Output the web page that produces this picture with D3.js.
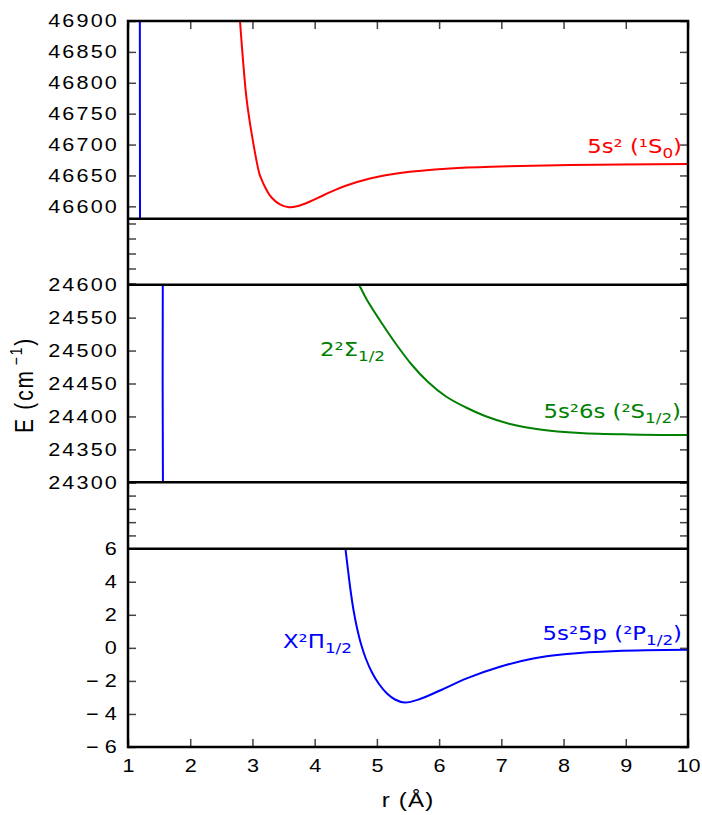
<!DOCTYPE html>
<html>
<head>
<meta charset="utf-8">
<script src="https://cdn.jsdelivr.net/npm/d3@7"></script>
<style>
  body { margin: 0; background: #fff; }
  svg { display: block; }
</style>
</head>
<body>
<div id="chart"></div>
<script>
// potential energy curves: [r (Å), E (cm-1)]
var redCurve = [[2.77, 46950], [2.800, 46900], [2.848, 46837], [2.908, 46772], [3.014, 46702], [3.110, 46653.4],
  [3.154, 46641.8], [3.202, 46631.3], [3.250, 46622.4], [3.314, 46613.5], [3.443, 46603], [3.588, 46598.4],
  [3.732, 46600.5], [3.925, 46607.8], [4.166, 46619.2], [4.488, 46632.9], [4.889, 46645.1], [5.372, 46654],
  [6.175, 46661.3], [6.979, 46664.5], [8.104, 46667], [10.0, 46668.5]];

var greenCurve = [[4.68, 24606], [4.713, 24600], [4.841, 24576.8], [5.050, 24545.7], [5.307, 24510], [5.564, 24478.1],
  [5.822, 24452.3], [6.111, 24430.3], [6.416, 24414.3], [6.738, 24400.7], [7.140, 24388.6], [7.622, 24380.2],
  [8.265, 24374.9], [9.068, 24372.6], [10.0, 24371.8]];

var blueCurve = [[1.190, 46950], [1.193, 46550], [1.560, 24650], [1.563, 24250], [4.4905, 6.3], [4.4955, 6.0],
  [4.5357, 4.711], [4.5759, 3.501], [4.6241, 2.291], [4.6804, 1.201], [4.7446, 0.233], [4.8250, -0.674],
  [4.9214, -1.491], [5.0339, -2.187], [5.1625, -2.762], [5.2911, -3.125], [5.45, -3.31],
  [5.6929, -3.095], [6.0143, -2.581], [6.4434, -1.843], [6.9786, -1.141], [7.5138, -0.644], [8.0505, -0.372],
  [8.8541, -0.191], [10.0, -0.118]];

// tick values
var rTicks = d3.range(1, 11);
var topTicks = [46600, 46650, 46700, 46750, 46800, 46850, 46900];
var midTicks = [24300, 24350, 24400, 24450, 24500, 24550, 24600];
var botTicks = [-6, -4, -2, 0, 2, 4, 6];
var gap1Ticks = [0, 0.25, 0.5, 0.75, 1];
var gap2Ticks = [0, 0.2, 0.4, 0.6, 0.8, 1];

var width = 702, height = 815;
var left = 128, right = 688;

var svg = d3.select("#chart").append("svg")
  .attr("width", width)
  .attr("height", height);

var x = d3.scaleLinear().domain([1, 10]).range([left, right]);

// the five stacked panels (two of them are empty gaps of the broken axis)
var panels = [
  {id: "top", domain: [46580, 46900], y0: 21, y1: 218.7, ticks: topTicks, labels: true, series: [[redCurve, "#ff0000"], [blueCurve, "#0000ff"]]},
  {id: "gap1", domain: [-0.02, 1.08], y0: 218.7, y1: 284.7, ticks: gap1Ticks, labels: false, series: []},
  {id: "mid", domain: [24300, 24600], y0: 284.7, y1: 482.3, ticks: midTicks, labels: true, series: [[greenCurve, "#008000"], [blueCurve, "#0000ff"]]},
  {id: "gap2", domain: [0, 1], y0: 482.3, y1: 548.7, ticks: gap2Ticks, labels: false, series: []},
  {id: "bot", domain: [-6, 6], y0: 548.7, y1: 747, ticks: botTicks, labels: true, series: [[blueCurve, "#0000ff"]]}
];

var fmtTick = function(d) { return d < 0 ? "\u2212\u200a" + Math.abs(d) : String(d); };

function styleTicks(g) {
  g.select(".domain").remove();
  g.selectAll(".tick line").attr("stroke", "#444").attr("stroke-width", 1.5);
}

// stretch axis text a bit sideways, like the original
function stretchText(sel, dx, anchor) {
  sel.selectAll(".tick text")
    .attr("x", 0)
    .attr("transform", "translate(" + dx + ",0) scale(1.2,1)")
    .style("font-family", "'Liberation Sans', Arial, sans-serif")
    .style("font-size", "18px")
    .style("letter-spacing", "1.8px")
    .attr("fill", "#000")
    .attr("text-anchor", anchor);
}

var defs = svg.append("defs");

panels.forEach(function(p) {
  var y = d3.scaleLinear().domain(p.domain).range([p.y1, p.y0]);

  defs.append("clipPath").attr("id", "clip-" + p.id)
    .append("rect")
    .attr("x", left).attr("y", p.y0)
    .attr("width", right - left).attr("height", p.y1 - p.y0);

  var line = d3.line()
    .x(function(d) { return x(d[0]); })
    .y(function(d) { return y(d[1]); })
    .curve(d3.curveCatmullRom.alpha(0.5));

  var plot = svg.append("g").attr("clip-path", "url(#clip-" + p.id + ")");
  p.series.forEach(function(s) {
    plot.append("path")
      .datum(s[0])
      .attr("fill", "none")
      .attr("stroke", s[1])
      .attr("stroke-width", 2)
      .attr("stroke-linejoin", "round")
      .attr("d", line);
  });

  var yl = svg.append("g")
    .attr("transform", "translate(" + left + ",0)")
    .call(d3.axisLeft(y).tickValues(p.ticks).tickSize(-8).tickPadding(9)
      .tickFormat(p.labels ? fmtTick : ""));
  styleTicks(yl);
  if (p.labels) stretchText(yl, -9, "end");

  var yr = svg.append("g")
    .attr("transform", "translate(" + right + ",0)")
    .call(d3.axisRight(y).tickValues(p.ticks).tickSize(-8).tickFormat(""));
  styleTicks(yr);
});

// x ticks on top of the first panel and bottom of the last one
var xt = svg.append("g")
  .attr("transform", "translate(0," + panels[0].y0 + ")")
  .call(d3.axisTop(x).tickValues(rTicks).tickSize(-8).tickFormat(""));
styleTicks(xt);

var xb = svg.append("g")
  .attr("transform", "translate(0," + panels[4].y1 + ")")
  .call(d3.axisBottom(x).tickValues(rTicks).tickSize(-8).tickPadding(11));
styleTicks(xb);
xb.selectAll(".tick text")
  .attr("y", 0)
  .attr("dy", null)
  .attr("transform", "translate(0,25) scale(1.2,1)")
  .style("font-family", "'Liberation Sans', Arial, sans-serif")
  .style("font-size", "18px")
  .attr("fill", "#000");

// frame and the lines between panels
svg.append("rect")
  .attr("x", left).attr("y", panels[0].y0)
  .attr("width", right - left).attr("height", panels[4].y1 - panels[0].y0)
  .attr("fill", "none").attr("stroke", "#000").attr("stroke-width", 2.5);
panels.slice(1).forEach(function(p) {
  svg.append("line")
    .attr("x1", left).attr("x2", right)
    .attr("y1", p.y0).attr("y2", p.y0)
    .attr("stroke", "#000").attr("stroke-width", 2.5);
});

// axis titles
var yTitle = svg.append("text")
  .attr("transform", "translate(33,385) scale(1.2,1) rotate(-90)")
  .attr("text-anchor", "middle")
  .style("font-family", "'Liberation Sans', Arial, sans-serif")
  .style("font-size", "21px")
  .style("letter-spacing", "1.8px");
yTitle.append("tspan").text("E (cm");
yTitle.append("tspan").attr("dx", 4).attr("dy", -9).style("font-size", "14px").text("\u22121");
yTitle.append("tspan").attr("dy", 9).text(")");

svg.append("text")
  .attr("transform", "translate(408,807) scale(1.15,1)")
  .attr("text-anchor", "middle")
  .style("font-family", "'Liberation Sans', Arial, sans-serif")
  .style("font-size", "21px")
  .style("letter-spacing", "1px")
  .text("r (\u00c5)");

// curve labels
function addLabel(parts, px, py, anchor, color) {
  var t = svg.append("text")
    .attr("transform", "translate(" + px + "," + py + ") scale(1.2,1)")
    .attr("text-anchor", anchor)
    .attr("fill", color)
    .style("font-family", "'DejaVu Sans', Verdana, sans-serif")
    .style("font-size", "19px");
  var shift = 0;
  parts.forEach(function(p) {
    var ts = t.append("tspan").text(p[0]);
    var want = p[1] ? 5 : 0;
    if (want !== shift) ts.attr("dy", want - shift);
    if (p[1]) ts.style("font-size", "14px");
    shift = want;
  });
}

addLabel([["5s\u00b2 (\u00b9S"], ["0", 1], [")"]], 682, 153, "end", "#ff0000");
addLabel([["2\u00b2\u03a3"], ["1/2", 1]], 320, 356, "start", "#008000");
addLabel([["5s\u00b26s (\u00b2S"], ["1/2", 1], [")"]], 681, 418, "end", "#008000");
addLabel([["X\u00b2\u03a0"], ["1/2", 1]], 283, 648, "start", "#0000ff");
addLabel([["5s\u00b25p (\u00b2P"], ["1/2", 1], [")"]], 682, 640, "end", "#0000ff");
</script>
</body>
</html>
